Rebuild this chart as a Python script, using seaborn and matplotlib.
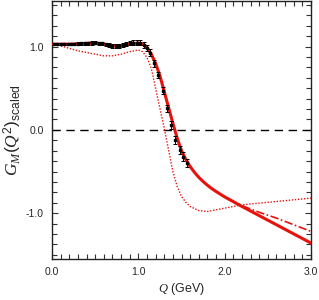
import numpy as np
import pandas as pd
import matplotlib
matplotlib.use("Agg")
import matplotlib.pyplot as plt
from matplotlib.ticker import MultipleLocator
import seaborn as sns

# ---- data ----
q_pts = [0.02, 0.06, 0.10, 0.14, 0.18, 0.22, 0.26, 0.30, 0.34, 0.38, 0.42, 0.46,
         0.50, 0.54, 0.58, 0.62, 0.66, 0.70, 0.74, 0.78, 0.82, 0.86, 0.90, 0.94,
         0.98, 1.02, 1.06, 1.10, 1.14, 1.18, 1.23, 1.28, 1.33, 1.38, 1.43, 1.48,
         1.52, 1.56]
g_pts = [1.03, 1.03, 1.03, 1.03, 1.03, 1.03, 1.03, 1.035, 1.04, 1.04, 1.04, 1.045,
         1.05, 1.04, 1.04, 1.03, 1.02, 1.01, 1.01, 1.01, 1.02, 1.03, 1.04, 1.05,
         1.05, 1.05, 1.02, 0.98, 0.93, 0.80, 0.66, 0.47, 0.26, 0.06, -0.12, -0.24,
         -0.32, -0.40]
g_err = [0.015, 0.015, 0.015, 0.015, 0.015, 0.015, 0.015, 0.02, 0.02, 0.02, 0.02, 0.02,
         0.02, 0.02, 0.02, 0.02, 0.02, 0.02, 0.02, 0.02, 0.02, 0.025, 0.025, 0.03,
         0.03, 0.03, 0.035, 0.035, 0.04, 0.04, 0.04, 0.04, 0.04, 0.045, 0.045, 0.05,
         0.05, 0.05]

q_fit = [0.0, 0.2, 0.4, 0.5, 0.6, 0.7, 0.8, 0.9, 1.0, 1.05, 1.1, 1.15, 1.2, 1.25,
         1.3, 1.35, 1.4, 1.45, 1.5, 1.55, 1.6, 1.65, 1.7, 1.75, 1.8, 1.85, 1.9, 2.0,
         2.2, 2.4, 2.6, 2.8, 3.0]
g_fit = [1.03, 1.03, 1.04, 1.045, 1.03, 1.01, 1.01, 1.03, 1.045, 1.03, 0.99, 0.91,
         0.80, 0.65, 0.46, 0.27, 0.08, -0.10, -0.25, -0.355, -0.44, -0.51, -0.57,
         -0.62, -0.665, -0.705, -0.74, -0.805, -0.92, -1.03, -1.14, -1.25, -1.36]

q_alt = [1.9, 2.0, 2.2, 2.4, 2.6, 2.8, 3.0]
g_alt = [-0.74, -0.805, -0.91, -0.99, -1.06, -1.14, -1.22]

q_dot = [0.0, 0.1, 0.2, 0.3, 0.4, 0.5, 0.6, 0.7, 0.8, 0.9, 1.0, 1.05, 1.1, 1.15,
         1.2, 1.25, 1.3, 1.35, 1.4, 1.45, 1.5, 1.55, 1.6, 1.7, 1.8, 1.9, 2.0, 2.2,
         2.4, 2.6, 2.8, 3.0]
g_dot = [1.03, 1.01, 0.98, 0.95, 0.93, 0.91, 0.89, 0.89, 0.91, 0.94, 0.96, 0.94,
         0.87, 0.74, 0.50, 0.26, 0.02, -0.24, -0.50, -0.68, -0.80, -0.87, -0.92,
         -0.97, -0.98, -0.96, -0.94, -0.90, -0.88, -0.86, -0.84, -0.82]

x_ticks = [0.0, 1.0, 2.0, 3.0]
y_ticks = [-1.0, 0.0, 1.0]

# ---- plotting ----
sns.set_style("ticks")
plt.rcParams["font.family"] = ["Liberation Sans", "DejaVu Sans"]
plt.rcParams["mathtext.fontset"] = "custom"
plt.rcParams["mathtext.rm"] = "Liberation Sans"
plt.rcParams["mathtext.it"] = "Liberation Serif:italic"
plt.rcParams["mathtext.bf"] = "Liberation Sans:bold"

fig = plt.figure(figsize=(3.19, 3.00), dpi=100)
ax = fig.add_axes([0.163, 0.137, 0.812, 0.860])

red = "#e8120c"
ax.axhline(0.0, color="black", lw=1.0, ls=(0, (6, 4)), zorder=1)

df_dot = pd.DataFrame({"Q": q_dot, "G": g_dot})
sns.lineplot(data=df_dot, x="Q", y="G", ax=ax, color=red, lw=1.0,
             linestyle=(0, (1, 1.2)), sort=False, estimator=None, zorder=2)

df_alt = pd.DataFrame({"Q": q_alt, "G": g_alt})
sns.lineplot(data=df_alt, x="Q", y="G", ax=ax, color=red, lw=1.2,
             linestyle=(0, (5, 1.5, 1, 1.5)), sort=False, estimator=None, zorder=3)

df_fit = pd.DataFrame({"Q": q_fit, "G": g_fit})
sns.lineplot(data=df_fit, x="Q", y="G", ax=ax, color=red, lw=2.2,
             sort=False, estimator=None, zorder=4)

ax.errorbar(q_pts, g_pts, yerr=g_err, fmt="s", ms=1.6, color="black",
            ecolor="black", elinewidth=0.7, capsize=1.2, capthick=0.7, zorder=5)

ax.set_xlim(0, 3.0)
ax.set_ylim(-1.55, 1.55)
ax.set_xticks(x_ticks)
ax.set_yticks(y_ticks)
ax.set_xticklabels([f"{v:.1f}" for v in x_ticks])
ax.set_yticklabels([f"{v:.1f}" for v in y_ticks])
ax.xaxis.set_minor_locator(MultipleLocator(0.1))
ax.yaxis.set_minor_locator(MultipleLocator(0.125))
ax.tick_params(which="both", direction="in", top=True, right=True,
               labelsize=7.5, width=0.8, color="#333333", pad=6)
ax.tick_params(which="major", length=4.5)
ax.tick_params(which="minor", length=3.5)
for s in ax.spines.values():
    s.set_linewidth(1.0)
    s.set_color("#222222")

ax.set_xlabel(r"$Q$ (GeV)", fontsize=9, labelpad=3)
ax.set_ylabel(r"$G_M(Q^2)_{\rm scaled}$", fontsize=12.5, labelpad=1)

fig.savefig("out.png", dpi=100)
